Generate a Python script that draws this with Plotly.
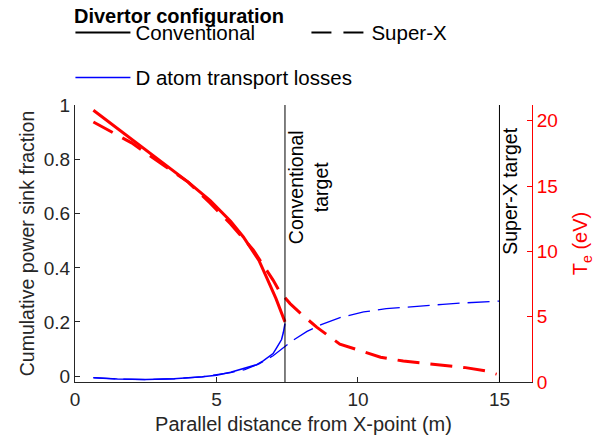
import plotly.graph_objects as go

# electron temperature along the leg (eV)
x_te_conv = [0.65, 1.5, 3.0, 4.0, 4.77, 5.5, 5.95, 6.5, 6.77, 7.1, 7.42]
te_conv = [20.8, 19.4, 16.9, 15.3, 13.9, 12.3, 11.1, 9.3, 8.0, 6.4, 4.6]

x_te_sx = [0.65, 2.0, 3.12, 4.0, 4.77, 5.5, 6.3, 7.0, 7.24, 7.6, 8.0, 8.54, 9.36,
           10.2, 10.8, 11.6, 12.5, 13.8, 14.5, 14.9]
te_sx = [19.9, 18.3, 16.6, 15.3, 13.7, 12.1, 10.1, 7.8, 6.9, 6.0, 5.2, 4.2, 2.9,
         2.3, 1.9, 1.6, 1.4, 1.1, 0.85, 0.6]

# cumulative power sink fraction from D atom transport
x_d_conv = [0.65, 1.5, 2.5, 3.5, 4.5, 5.0, 5.5, 5.95, 6.42, 6.65, 7.0, 7.13, 7.3, 7.36, 7.42]
d_conv = [-0.006, -0.011, -0.013, -0.01, -0.003, 0.003, 0.014, 0.027, 0.042, 0.056,
          0.083, 0.105, 0.135, 0.16, 0.194]

x_d_sx = [0.65, 1.5, 2.5, 3.5, 4.5, 5.5, 6.0, 6.5, 7.0, 7.24, 7.7, 8.2, 8.7, 9.4,
          10.2, 11.0, 12.0, 13.0, 13.7, 14.5, 15.0]
d_sx = [-0.006, -0.011, -0.013, -0.01, -0.003, 0.013, 0.024, 0.045, 0.075, 0.095,
        0.132, 0.165, 0.19, 0.217, 0.237, 0.249, 0.258, 0.265, 0.27, 0.275, 0.277]

targets = [7.42, 15.0]
target_labels = ["Conventional<br>target", "Super-X target"]
label_y = [0.70, 0.683]

FONT = "Liberation Sans"
AX = "#262626"
RED = "#ff0000"
BLUE = "#0000ff"

fig = go.Figure()

fig.add_trace(go.Scatter(x=x_d_conv, y=d_conv, mode="lines", name="D atom transport losses",
                         line=dict(color=BLUE, width=1.5), legend="legend2"))
fig.add_trace(go.Scatter(x=x_d_sx, y=d_sx, mode="lines", showlegend=False,
                         line=dict(color=BLUE, width=1.3, dash="22px,8px")))
fig.add_trace(go.Scatter(x=x_te_conv, y=te_conv, mode="lines", yaxis="y2", showlegend=False,
                         line=dict(color=RED, width=3)))
fig.add_trace(go.Scatter(x=x_te_sx, y=te_sx, mode="lines", yaxis="y2", showlegend=False,
                         line=dict(color=RED, width=3, dash="22px,11px")))

# legend-only entries for the configuration line styles
fig.add_trace(go.Scatter(x=[None], y=[None], mode="lines", name="Conventional",
                         line=dict(color="black", width=2)))
fig.add_trace(go.Scatter(x=[None], y=[None], mode="lines", name="Super-X",
                         line=dict(color="black", width=2, dash="20px,12px")))

for xt, lab, ly in zip(targets, target_labels, label_y):
    fig.add_shape(type="line", xref="x", yref="paper", x0=xt, x1=xt, y0=0, y1=1,
                  line=dict(color="black", width=1))
    fig.add_annotation(x=xt, y=ly, xref="x", yref="y", text=lab, textangle=-90,
                       showarrow=False, xanchor="left", yanchor="middle", xshift=-2,
                       align="center", font=dict(size=19.5, color="black"))

fig.add_annotation(x=-0.006, y=1.322, xref="paper", yref="paper", xanchor="left",
                   yanchor="middle", showarrow=False, text="<b>Divertor configuration</b>",
                   font=dict(size=20, color="black"))

fig.update_layout(
    width=606, height=441,
    margin=dict(l=67, r=82, t=97, b=67, autoexpand=False),
    paper_bgcolor="white", plot_bgcolor="white",
    font=dict(family=FONT, size=19, color=AX),
    showlegend=True,
    legend=dict(orientation="h", x=-0.01, y=1.3336, xanchor="left", yanchor="top",
                entrywidth=166, itemwidth=55,
                font=dict(size=20.5, color="black"), bgcolor="rgba(0,0,0,0)"),
    legend2=dict(orientation="h", x=-0.01, y=1.171, xanchor="left", yanchor="top",
                 itemwidth=55, font=dict(size=20.5, color="black"),
                 bgcolor="rgba(0,0,0,0)"),
    xaxis=dict(range=[0, 16.15], tickvals=[0, 5, 10, 15], ticks="inside", ticklen=5,
               showline=True, linecolor=AX, tickcolor=AX, showgrid=False, zeroline=False,
               tickfont=dict(size=19, color=AX),
               title=dict(text="Parallel distance from X-point (m)", standoff=8,
                          font=dict(size=20, color=AX))),
    yaxis=dict(range=[-0.022, 1.002], tickvals=[0, 0.2, 0.4, 0.6, 0.8, 1],
               ticktext=["0", "0.2", "0.4", "0.6", "0.8", "1"],
               ticks="inside", ticklen=5, showline=True, linecolor=AX, tickcolor=AX,
               showgrid=False, zeroline=False, tickfont=dict(size=19, color=AX),
               title=dict(text="Cumulative power sink fraction", standoff=3,
                          font=dict(size=19.5, color=AX))),
    yaxis2=dict(range=[0, 21.2], tickvals=[0, 5, 10, 15, 20], overlaying="y", side="right",
                ticks="inside", ticklen=5, showline=True, linecolor=RED, tickcolor=RED,
                showgrid=False, zeroline=False, tickfont=dict(size=19, color=RED),
                title=dict(text="T<sub>e</sub> (eV)", standoff=16,
                           font=dict(size=20, color=RED))),
)

fig.write_html("out.html")
